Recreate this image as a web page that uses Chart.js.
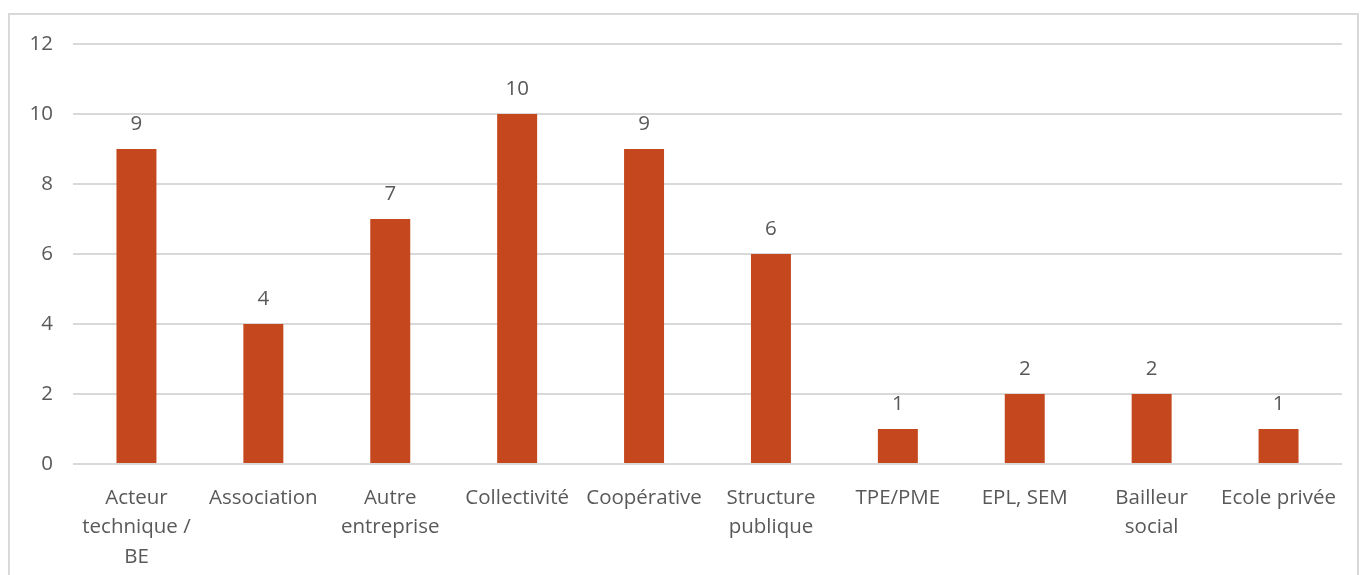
<!DOCTYPE html>
<html>
<head>
<meta charset="utf-8">
<script src="https://cdn.jsdelivr.net/npm/chart.js@4/dist/chart.umd.min.js"></script>
<style>
  html, body { margin: 0; padding: 0; background: #fff; }
  #wrap { width: 1360px; height: 575px; position: relative; }
</style>
</head>
<body>
<div id="wrap"><canvas id="chart"></canvas></div>
<script>
// ==== Data ====
const categories = [
  ["Acteur", "technique /", "BE"],
  "Association",
  ["Autre", "entreprise"],
  "Collectivité",
  "Coopérative",
  ["Structure", "publique"],
  "TPE/PME",
  "EPL, SEM",
  ["Bailleur", "social"],
  "Ecole privée"
];
const counts = [9, 4, 7, 10, 9, 6, 1, 2, 2, 1];
const yTicks = [0, 2, 4, 6, 8, 10, 12];

const FONT = "'Open Sans', 'Noto Sans', sans-serif";
const TEXT = "#595959";

// ==== Plugins ====
// frame around the chart
const framePlugin = {
  id: "frame",
  beforeDraw(chart) {
    const ctx = chart.ctx;
    ctx.save();
    ctx.fillStyle = "#fff";
    ctx.fillRect(0, 0, chart.width, chart.height);
    ctx.strokeStyle = "#d9d9d9";
    ctx.lineWidth = 2;
    ctx.strokeRect(9, 14, 1349, 600);
    ctx.restore();
  }
};

// value labels above bars
const valueLabels = {
  id: "valueLabels",
  afterDatasetsDraw(chart) {
    const ctx = chart.ctx;
    const meta = chart.getDatasetMeta(0);
    ctx.save();
    ctx.font = "20.5px " + FONT;
    ctx.fillStyle = TEXT;
    ctx.textAlign = "center";
    ctx.textBaseline = "middle";
    meta.data.forEach((bar, i) => {
      ctx.fillText(String(counts[i]), bar.x, bar.y - 25);
    });
    ctx.restore();
  }
};

// ==== Chart ====
new Chart(document.getElementById("chart"), {
  type: "bar",
  data: {
    labels: categories,
    datasets: [{
      data: counts,
      backgroundColor: "#C5471D",
      barPercentage: 0.63,
      categoryPercentage: 0.5
    }]
  },
  options: {
    responsive: true,
    maintainAspectRatio: false,
    animation: false,
    layout: { padding: { top: 44, right: 18, left: 0, bottom: 0 } },
    plugins: {
      legend: { display: false },
      tooltip: { enabled: false }
    },
    scales: {
      x: {
        grid: { display: false },
        border: { display: false },
        ticks: {
          color: TEXT,
          font: { family: FONT, size: 20.5, lineHeight: 1.44 },
          maxRotation: 0,
          autoSkip: false,
          padding: 11
        },
        afterFit(scale) { scale.height = 111; }
      },
      y: {
        min: 0,
        max: 12,
        afterBuildTicks(scale) { scale.ticks = yTicks.map((v) => ({ value: v })); },
        grid: { color: "#d9d9d9", lineWidth: 2, drawTicks: false },
        border: { display: false },
        ticks: {
          color: TEXT,
          font: { family: FONT, size: 20.5 },
          padding: 20
        },
        afterFit(scale) { scale.width = 73; }
      }
    }
  },
  plugins: [framePlugin, valueLabels]
});
</script>
</body>
</html>
